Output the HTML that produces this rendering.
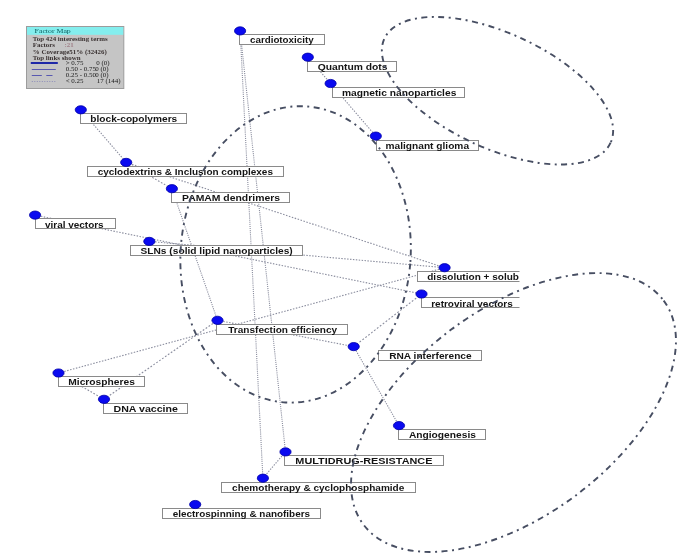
<!DOCTYPE html>
<html><head><meta charset="utf-8"><style>
html,body{margin:0;padding:0;background:#fff;}
body{width:693px;height:558px;overflow:hidden;position:relative;}
svg{position:absolute;left:0;top:0;will-change:transform;}
.lb{font-family:"Liberation Sans",sans-serif;font-weight:bold;font-size:8.8px;fill:#141414;}
.lg{font-family:"Liberation Serif",serif;font-size:5.45px;fill:#202020;}
.lgb{font-family:"Liberation Serif",serif;font-weight:bold;font-size:5.4px;fill:#3a3232;}
.lgp{font-family:"Liberation Serif",serif;font-weight:bold;font-size:5.4px;fill:#a08088;}
.lgh{font-family:"Liberation Serif",serif;font-size:6.4px;fill:#0a5a5a;}
</style></head><body>
<svg width="693" height="558" viewBox="0 0 693 558">
<defs><clipPath id="cp"><rect x="0" y="0" width="519.5" height="558"/></clipPath></defs>

<g stroke="#8a8d9e" stroke-width="1.1" fill="none">
<line x1="240.1" y1="30.9" x2="262.9" y2="478.2" stroke-dasharray="1.05 1.05"/>
<line x1="240.1" y1="30.9" x2="285.5" y2="451.9" stroke-dasharray="1.06 1.06"/>
<line x1="307.8" y1="57.2" x2="330.6" y2="83.5" stroke-dasharray="1.39 1.39"/>
<line x1="330.6" y1="83.5" x2="375.8" y2="136.1" stroke-dasharray="1.38 1.38"/>
<line x1="80.8" y1="109.8" x2="126.2" y2="162.4" stroke-dasharray="1.39 1.39"/>
<line x1="126.2" y1="162.4" x2="444.6" y2="267.7" stroke-dasharray="1.53 1.53"/>
<line x1="126.2" y1="162.4" x2="171.9" y2="188.7" stroke-dasharray="1.67 1.67"/>
<line x1="171.9" y1="188.7" x2="217.5" y2="320.3" stroke-dasharray="1.11 1.11"/>
<line x1="35.1" y1="215.1" x2="421.5" y2="294.0" stroke-dasharray="1.48 1.48"/>
<line x1="149.3" y1="241.4" x2="444.6" y2="267.7" stroke-dasharray="1.46 1.46"/>
<line x1="58.5" y1="373.0" x2="444.6" y2="267.7" stroke-dasharray="1.50 1.50"/>
<line x1="58.5" y1="373.0" x2="104.0" y2="399.3" stroke-dasharray="1.68 1.68"/>
<line x1="104.0" y1="399.3" x2="217.5" y2="320.3" stroke-dasharray="1.77 1.77"/>
<line x1="217.5" y1="320.3" x2="353.7" y2="346.6" stroke-dasharray="1.48 1.48"/>
<line x1="353.7" y1="346.6" x2="421.5" y2="294.0" stroke-dasharray="1.84 1.84"/>
<line x1="353.7" y1="346.6" x2="399.0" y2="425.6" stroke-dasharray="1.21 1.21"/>
<line x1="285.5" y1="451.9" x2="262.9" y2="478.2" stroke-dasharray="1.38 1.38"/>
</g>
<rect x="239.5" y="34.5" width="85.0" height="10" fill="#fff" stroke="#8a8a8a" stroke-width="1"/>
<text class="lb" text-anchor="middle" transform="translate(281.8 43.2) scale(1.113 1)">cardiotoxicity</text>
<rect x="307.5" y="61.5" width="89.0" height="10" fill="#fff" stroke="#8a8a8a" stroke-width="1"/>
<text class="lb" text-anchor="middle" transform="translate(352.6 69.5) scale(1.172 1)">Quantum dots</text>
<rect x="332.5" y="87.5" width="132.0" height="10" fill="#fff" stroke="#8a8a8a" stroke-width="1"/>
<text class="lb" text-anchor="middle" transform="translate(399.1 95.9) scale(1.165 1)">magnetic nanoparticles</text>
<rect x="80.5" y="113.5" width="106.0" height="10" fill="#fff" stroke="#8a8a8a" stroke-width="1"/>
<text class="lb" text-anchor="middle" transform="translate(133.8 122.2) scale(1.154 1)">block-copolymers</text>
<rect x="376.5" y="140.5" width="102.0" height="10" fill="#fff" stroke="#8a8a8a" stroke-width="1"/>
<text class="lb" text-anchor="middle" transform="translate(427.3 148.5) scale(1.154 1)">malignant glioma</text>
<rect x="87.5" y="166.5" width="196.0" height="10" fill="#fff" stroke="#8a8a8a" stroke-width="1"/>
<text class="lb" text-anchor="middle" transform="translate(185.3 174.8) scale(1.136 1)">cyclodextrins &amp; Inclusion complexes</text>
<rect x="171.5" y="192.5" width="118.0" height="10" fill="#fff" stroke="#8a8a8a" stroke-width="1"/>
<text class="lb" text-anchor="middle" transform="translate(231.0 201.2) scale(1.184 1)">PAMAM dendrimers</text>
<rect x="35.5" y="218.5" width="80.0" height="10" fill="#fff" stroke="#8a8a8a" stroke-width="1"/>
<text class="lb" text-anchor="middle" transform="translate(74.3 227.5) scale(1.133 1)">viral vectors</text>
<rect x="130.5" y="245.5" width="172.0" height="10" fill="#fff" stroke="#8a8a8a" stroke-width="1"/>
<text class="lb" text-anchor="middle" transform="translate(216.6 253.8) scale(1.158 1)">SLNs (solid lipid nanoparticles)</text>
<g clip-path="url(#cp)"><rect x="417.5" y="271.5" width="107.2" height="10" fill="#fff" stroke="#8a8a8a" stroke-width="1"/>
<text class="lb" text-anchor="middle" transform="translate(473.1 280.1) scale(1.142 1)">dissolution + solub</text></g>
<g clip-path="url(#cp)"><rect x="421.5" y="297.5" width="103.3" height="10" fill="#fff" stroke="#8a8a8a" stroke-width="1"/>
<text class="lb" text-anchor="middle" transform="translate(472.0 306.5) scale(1.135 1)">retroviral vectors</text></g>
<rect x="216.5" y="324.5" width="131.0" height="10" fill="#fff" stroke="#8a8a8a" stroke-width="1"/>
<text class="lb" text-anchor="middle" transform="translate(282.7 332.8) scale(1.143 1)">Transfection efficiency</text>
<rect x="378.5" y="350.5" width="103.0" height="10" fill="#fff" stroke="#8a8a8a" stroke-width="1"/>
<text class="lb" text-anchor="middle" transform="translate(430.4 359.1) scale(1.152 1)">RNA interference</text>
<rect x="58.5" y="376.5" width="86.0" height="10" fill="#fff" stroke="#8a8a8a" stroke-width="1"/>
<text class="lb" text-anchor="middle" transform="translate(101.6 385.4) scale(1.167 1)">Microspheres</text>
<rect x="103.5" y="403.5" width="84.0" height="10" fill="#fff" stroke="#8a8a8a" stroke-width="1"/>
<text class="lb" text-anchor="middle" transform="translate(145.7 411.7) scale(1.206 1)">DNA vaccine</text>
<rect x="398.5" y="429.5" width="87.0" height="10" fill="#fff" stroke="#8a8a8a" stroke-width="1"/>
<text class="lb" text-anchor="middle" transform="translate(442.4 438.1) scale(1.163 1)">Angiogenesis</text>
<rect x="284.5" y="455.5" width="159.0" height="10" fill="#fff" stroke="#8a8a8a" stroke-width="1"/>
<text class="lb" text-anchor="middle" transform="translate(363.9 464.4) scale(1.235 1)">MULTIDRUG-RESISTANCE</text>
<rect x="221.5" y="482.5" width="194.0" height="10" fill="#fff" stroke="#8a8a8a" stroke-width="1"/>
<text class="lb" text-anchor="middle" transform="translate(318.2 490.7) scale(1.139 1)">chemotherapy &amp; cyclophosphamide</text>
<rect x="162.5" y="508.5" width="158.0" height="10" fill="#fff" stroke="#8a8a8a" stroke-width="1"/>
<text class="lb" text-anchor="middle" transform="translate(241.4 517.0) scale(1.130 1)">electrospinning &amp; nanofibers</text>
<ellipse cx="240.1" cy="30.9" rx="5.6" ry="4.1" fill="#0a0af0" stroke="#0000a8" stroke-width="0.8"/>
<ellipse cx="307.8" cy="57.2" rx="5.6" ry="4.1" fill="#0a0af0" stroke="#0000a8" stroke-width="0.8"/>
<ellipse cx="330.6" cy="83.5" rx="5.6" ry="4.1" fill="#0a0af0" stroke="#0000a8" stroke-width="0.8"/>
<ellipse cx="80.8" cy="109.8" rx="5.6" ry="4.1" fill="#0a0af0" stroke="#0000a8" stroke-width="0.8"/>
<ellipse cx="375.8" cy="136.1" rx="5.6" ry="4.1" fill="#0a0af0" stroke="#0000a8" stroke-width="0.8"/>
<ellipse cx="126.2" cy="162.4" rx="5.6" ry="4.1" fill="#0a0af0" stroke="#0000a8" stroke-width="0.8"/>
<ellipse cx="171.9" cy="188.7" rx="5.6" ry="4.1" fill="#0a0af0" stroke="#0000a8" stroke-width="0.8"/>
<ellipse cx="35.1" cy="215.1" rx="5.6" ry="4.1" fill="#0a0af0" stroke="#0000a8" stroke-width="0.8"/>
<ellipse cx="149.3" cy="241.4" rx="5.6" ry="4.1" fill="#0a0af0" stroke="#0000a8" stroke-width="0.8"/>
<ellipse cx="444.6" cy="267.7" rx="5.6" ry="4.1" fill="#0a0af0" stroke="#0000a8" stroke-width="0.8"/>
<ellipse cx="421.5" cy="294.0" rx="5.6" ry="4.1" fill="#0a0af0" stroke="#0000a8" stroke-width="0.8"/>
<ellipse cx="217.5" cy="320.3" rx="5.6" ry="4.1" fill="#0a0af0" stroke="#0000a8" stroke-width="0.8"/>
<ellipse cx="353.7" cy="346.6" rx="5.6" ry="4.1" fill="#0a0af0" stroke="#0000a8" stroke-width="0.8"/>
<ellipse cx="58.5" cy="373.0" rx="5.6" ry="4.1" fill="#0a0af0" stroke="#0000a8" stroke-width="0.8"/>
<ellipse cx="104.0" cy="399.3" rx="5.6" ry="4.1" fill="#0a0af0" stroke="#0000a8" stroke-width="0.8"/>
<ellipse cx="399.0" cy="425.6" rx="5.6" ry="4.1" fill="#0a0af0" stroke="#0000a8" stroke-width="0.8"/>
<ellipse cx="285.5" cy="451.9" rx="5.6" ry="4.1" fill="#0a0af0" stroke="#0000a8" stroke-width="0.8"/>
<ellipse cx="262.9" cy="478.2" rx="5.6" ry="4.1" fill="#0a0af0" stroke="#0000a8" stroke-width="0.8"/>
<ellipse cx="195.2" cy="504.5" rx="5.6" ry="4.1" fill="#0a0af0" stroke="#0000a8" stroke-width="0.8"/>
<g fill="none" stroke="#474e62" stroke-width="1.9" stroke-dasharray="6 4.5 2 4.5">
<ellipse cx="497.5" cy="90.7" rx="124.5" ry="57.6" transform="rotate(24.7 497.5 90.7)"/>
<ellipse cx="295.6" cy="254.4" rx="115.0" ry="148.4" transform="rotate(4.6 295.6 254.4)"/>
<ellipse cx="513.5" cy="412.5" rx="187.3" ry="103.7" transform="rotate(-36.7 513.5 412.5)"/>
</g>
<g><rect x="26.5" y="26.5" width="97.3" height="62" fill="#c5c5c5" stroke="#9c9c9c" stroke-width="1"/>
<rect x="27" y="27" width="96.3" height="7.8" fill="#84eeee"/>
<text class="lgh" transform="translate(34.6 32.8) scale(1.22 1)">Factor Map</text>
<text class="lgb" transform="translate(32.8 40.8) scale(1.28 1)">Top 424 interesting terms</text>
<text class="lgb" transform="translate(32.8 47.4) scale(1.28 1)">Factors</text>
<text class="lgp" transform="translate(64.4 47.4) scale(1.28 1)">:21</text>
<text class="lgb" transform="translate(32.8 53.6) scale(1.28 1)">% Coverage51% (32426)</text>
<text class="lgb" transform="translate(32.8 59.6) scale(1.28 1)">Top links shown</text>
<line x1="30.8" y1="63" x2="57.8" y2="63" stroke="#1e28a8" stroke-width="2"/>
<line x1="31.8" y1="69.5" x2="55.8" y2="69.5" stroke="#5858b0" stroke-width="1"/>
<line x1="31.8" y1="75.5" x2="52.5" y2="75.5" stroke="#5858b0" stroke-width="1" stroke-dasharray="10 4.5"/>
<line x1="31.8" y1="81.5" x2="55.5" y2="81.5" stroke="#8c8cb8" stroke-width="1" stroke-dasharray="1 1.5"/>
<text class="lg" transform="translate(65.7 65.2) scale(1.28 1)">&gt; 0.75</text>
<text class="lg" transform="translate(96.2 65.2) scale(1.28 1)">0 (0)</text>
<text class="lg" transform="translate(65.7 71.2) scale(1.28 1)">0.50 - 0.75</text>
<text class="lg" transform="translate(95.2 71.2) scale(1.28 1)">0 (0)</text>
<text class="lg" transform="translate(65.7 77.1) scale(1.28 1)">0.25 - 0.50</text>
<text class="lg" transform="translate(95.2 77.1) scale(1.28 1)">0 (0)</text>
<text class="lg" transform="translate(65.7 83.3) scale(1.28 1)">&lt; 0.25</text>
<text class="lg" transform="translate(96.7 83.3) scale(1.28 1)">17 (144)</text></g>
</svg></body></html>
